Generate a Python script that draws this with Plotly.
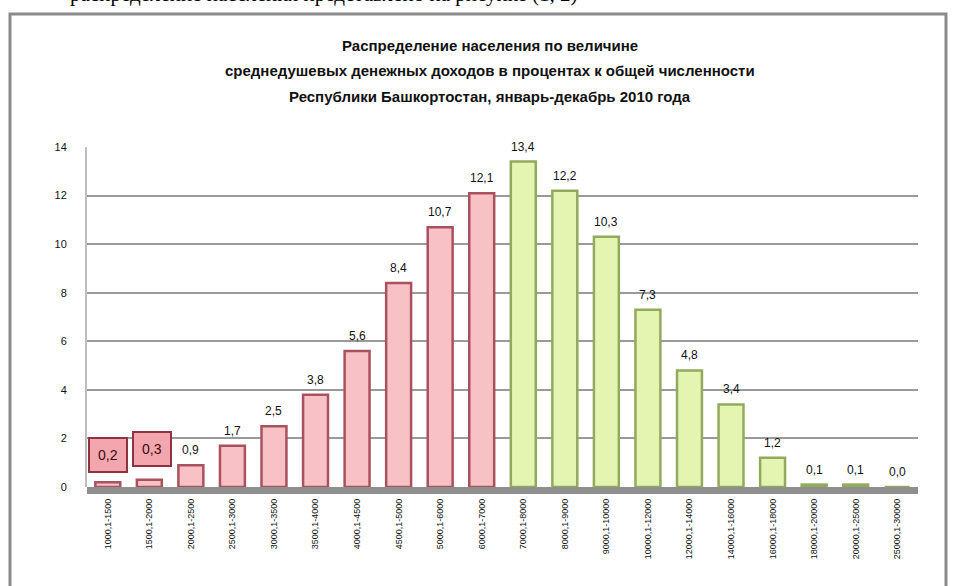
import plotly.graph_objects as go

# ---- data ----
categories = ["1000,1-1500", "1500,1-2000", "2000,1-2500", "2500,1-3000", "3000,1-3500",
              "3500,1-4000", "4000,1-4500", "4500,1-5000", "5000,1-6000", "6000,1-7000",
              "7000,1-8000", "8000,1-9000", "9000,1-10000", "10000,1-12000", "12000,1-14000",
              "14000,1-16000", "16000,1-18000", "18000,1-20000", "20000,1-25000", "25000,1-30000"]
values_red = [0.2, 0.3, 0.9, 1.7, 2.5, 3.8, 5.6, 8.4, 10.7, 12.1]
values_green = [13.4, 12.2, 10.3, 7.3, 4.8, 3.4, 1.2, 0.1, 0.1, 0.0]
cats_red = categories[:10]
cats_green = categories[10:]
y_ticks = [0, 2, 4, 6, 8, 10, 12, 14]
title_lines = [
    "Распределение населения по величине",
    "среднедушевых денежных доходов в процентах к общей численности",
    "Республики Башкортостан, январь-декабрь 2010 года",
]
page_text = "распределение населения представлено на рисунке (1, 2)"

W, H = 959, 586
L, R, T, B = 87, 41, 147, 99
PW, PH = W - L - R, H - T - B


def px(x):
    return (x - L) / PW


def py(y):
    return (H - B - y) / PH


fig = go.Figure()
fig.add_trace(go.Bar(x=cats_red, y=values_red,
                     marker=dict(color="#f7c1c6", line=dict(color="#a9525e", width=2.5)),
                     hoverinfo="x+y", showlegend=False))
fig.add_trace(go.Bar(x=cats_green, y=values_green,
                     marker=dict(color="#e4f5b2", line=dict(color="#91aa5e", width=2.5)),
                     hoverinfo="x+y", showlegend=False))

annotations = []
# data labels
for i, (c, v) in enumerate(zip(categories, values_red + values_green)):
    lab = f"{v:.1f}".replace(".", ",")
    if i < 2:
        annotations.append(dict(x=c, y=v, xref="x", yref="y", text=lab, showarrow=False,
                                yanchor="bottom", yshift=9 + 4 * i, xshift=3 * i,
                                font=dict(family="Liberation Sans, Arial", size=14, color="#3a0a10"),
                                bgcolor="#f4a6ae", bordercolor="#8e3441", borderwidth=2,
                                borderpad=8))
    else:
        annotations.append(dict(x=c, y=v, xref="x", yref="y", text=lab, showarrow=False,
                                yanchor="bottom", yshift=6,
                                font=dict(family="Liberation Sans, Arial", size=12, color="#111111")))

# title lines
for ln, yy in zip(title_lines, [46, 71, 96]):
    annotations.append(dict(x=px(490), y=py(yy), xref="paper", yref="paper", text="<b>" + ln + "</b>",
                            showarrow=False, xanchor="center", yanchor="middle",
                            font=dict(family="Liberation Sans, Arial", size=15, color="#111111")))

# page text above the chart frame (mostly cut off)
annotations.append(dict(x=px(68), y=py(8), xref="paper", yref="paper", text=page_text,
                        showarrow=False, xanchor="left", yanchor="bottom",
                        font=dict(family="Liberation Serif, Times New Roman", size=21, color="#000000")))

shapes = [
    # outer frame
    dict(type="rect", xref="paper", yref="paper", x0=px(10), x1=px(946), y0=py(600), y1=py(14),
         line=dict(color="#8a8a8a", width=3), fillcolor="rgba(0,0,0,0)", layer="below"),
    # floor
    dict(type="rect", xref="paper", yref="paper", x0=0, x1=1, y0=py(494), y1=py(487),
         line=dict(width=0), fillcolor="#8f8f8f", layer="below"),
]

fig.update_layout(
    width=W, height=H,
    margin=dict(l=L, r=R, t=T, b=B),
    paper_bgcolor="white", plot_bgcolor="white",
    bargap=0.4,
    annotations=annotations,
    shapes=shapes,
    xaxis=dict(categoryorder="array", categoryarray=categories, tickangle=-90,
               tickfont=dict(family="Liberation Sans, Arial", size=9, color="#111111"),
               showgrid=False, showline=False, ticks="", ticklabelstandoff=9, fixedrange=True),
    yaxis=dict(range=[0, 14], tickvals=y_ticks, ticktext=[str(t) for t in y_ticks],
               tickfont=dict(family="Liberation Sans, Arial", size=11, color="#111111"),
               showgrid=True, gridcolor="#9a9a9a", gridwidth=2,
               showline=True, linecolor="#bdbdbd", linewidth=2,
               zeroline=False, ticks="", ticklabelstandoff=16, fixedrange=True),
)

fig.write_html("out.html", config={"displayModeBar": False},
               post_script="document.body.style.margin='0';")
